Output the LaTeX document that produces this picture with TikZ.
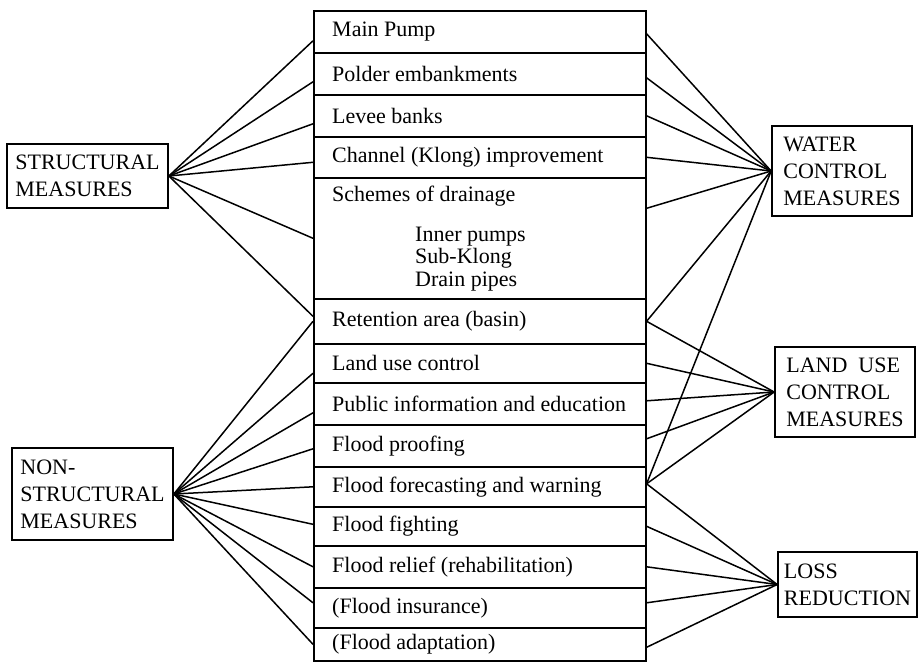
\documentclass[tikz,border=0pt]{standalone}
\usepackage{fontspec}
\setmainfont{Liberation Serif}
\begin{document}
\begin{tikzpicture}[x=1pt,y=-1pt,
  cell/.style={draw, line width=1.6pt, minimum width=332pt, inner sep=0pt, anchor=north west},
  celltext/.style={anchor=west, inner sep=0pt, font=\fontsize{22}{27}\selectfont},
  catbox/.style={draw, line width=1.7pt, align=left, inner sep=4pt, font=\fontsize{22}{27}\selectfont},
  link/.style={line width=1.5pt}]
\useasboundingbox (0,0) rectangle (919,672);

% central column rows
\node[cell, minimum height=42pt] (r1) at (313,10) {};
\node[cell, minimum height=42pt] (r2) at (313,52) {};
\node[cell, minimum height=42pt] (r3) at (313,94) {};
\node[cell, minimum height=41pt] (r4) at (313,136) {};
\node[cell, minimum height=121pt] (r5) at (313,177) {};
\node[cell, minimum height=45pt] (r6) at (313,298) {};
\node[cell, minimum height=39pt] (r7) at (313,343) {};
\node[cell, minimum height=42pt] (r8) at (313,382) {};
\node[cell, minimum height=42pt] (r9) at (313,424) {};
\node[cell, minimum height=40pt] (r10) at (313,466) {};
\node[cell, minimum height=39pt] (r11) at (313,506) {};
\node[cell, minimum height=42pt] (r12) at (313,545) {};
\node[cell, minimum height=40pt] (r13) at (313,587) {};
\node[cell, minimum height=33pt] (r14) at (313,627) {};

% row texts
\node[celltext] (t1) at ([xshift=19pt]r1.west) {Main Pump};
\node[celltext] (t2) at ([xshift=19pt]r2.west) {Polder embankments};
\node[celltext] (t3) at ([xshift=19pt]r3.west) {Levee banks};
\node[celltext] (t4) at ([xshift=19pt]r4.west) {Channel (Klong) improvement};
\node[celltext] (t5) at (332,196) {Schemes of drainage};
\node[celltext, align=left, font=\fontsize{22}{22.5}\selectfont] (t5b) at (415,259) {Inner pumps\\Sub-Klong\\Drain pipes};
\node[celltext] (t6) at ([xshift=19pt]r6.west) {Retention area (basin)};
\node[celltext] (t7) at ([xshift=19pt]r7.west) {Land use control};
\node[celltext] (t8) at ([xshift=19pt]r8.west) {Public information and education};
\node[celltext] (t9) at ([xshift=19pt]r9.west) {Flood proofing};
\node[celltext] (t10) at ([xshift=19pt]r10.west) {Flood forecasting and warning};
\node[celltext] (t11) at ([xshift=19pt]r11.west) {Flood fighting};
\node[celltext] (t12) at ([xshift=19pt]r12.west) {Flood relief (rehabilitation)};
\node[celltext] (t13) at ([xshift=19pt]r13.west) {(Flood insurance)};
\node[celltext] (t14) at ([xshift=19pt]r14.west) {(Flood adaptation)};

% category boxes
\node[catbox, minimum width=161pt, minimum height=64pt] (S) at (87.5,176) {STRUCTURAL\\MEASURES};
\node[catbox, minimum width=161pt, minimum height=92pt] (N) at (92.5,494) {NON-\\STRUCTURAL\\MEASURES};
\node[catbox, minimum width=140pt, minimum height=90pt] (W) at (842,171) {WATER\\CONTROL\\MEASURES};
\node[catbox, minimum width=140pt, minimum height=90pt] (L) at (845,392) {LAND\ \ USE\\CONTROL\\MEASURES};
\node[catbox, minimum width=139pt, minimum height=65pt] (R) at (847.5,584.5) {LOSS\\REDUCTION};

% structural links
\draw[link] (S.east) -- ([yshift=-9pt]r1.west);
\draw[link] (S.east) -- ([yshift=-8pt]r2.west);
\draw[link] (S.east) -- ([yshift=-8pt]r3.west);
\draw[link] (S.east) -- ([yshift=-5pt]r4.west);
\draw[link] (S.east) -- (r5.west);
\draw[link] (S.east) -- ([yshift=5pt]r6.west);

% non-structural links
\draw[link] (N.east) -- (r6.west);
\draw[link] (N.east) -- ([yshift=-10pt]r7.west);
\draw[link] (N.east) -- ([yshift=-9pt]r8.west);
\draw[link] (N.east) -- ([yshift=-3pt]r9.west);
\draw[link] (N.east) -- (r10.west);
\draw[link] (N.east) -- ([yshift=2pt]r11.west);
\draw[link] (N.east) -- (r12.west);
\draw[link] (N.east) -- ([yshift=5pt]r13.west);
\draw[link] (N.east) -- (r14.west);

% water control links
\draw[link] (W.west) -- ([yshift=-2pt]r1.east);
\draw[link] (W.west) -- ([yshift=-4pt]r2.east);
\draw[link] (W.west) -- (r3.east);
\draw[link] (W.west) -- (r4.east);
\draw[link] (W.west) -- ([yshift=30pt]r5.east);
\draw[link] (W.west) -- (r6.east);
\draw[link] (W.west) -- ([yshift=3pt]r10.east);

% land use control links
\draw[link] (L.west) -- (r6.east);
\draw[link] (L.west) -- (r7.east);
\draw[link] (L.west) -- ([yshift=3pt]r8.east);
\draw[link] (L.west) -- ([yshift=7pt]r9.east);
\draw[link] (L.west) -- ([yshift=3pt]r10.east);

% loss reduction links
\draw[link] (R.west) -- ([yshift=3pt]r10.east);
\draw[link] (R.west) -- (r11.east);
\draw[link] (R.west) -- (r12.east);
\draw[link] (R.west) -- ([yshift=5pt]r13.east);
\draw[link] (R.west) -- ([yshift=-3pt]r14.east);
\end{tikzpicture}
\end{document}
